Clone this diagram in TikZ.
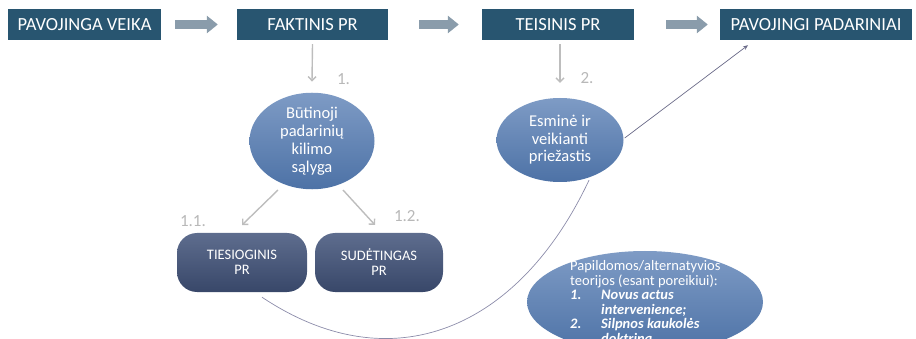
\documentclass[tikz,border=0pt]{standalone}
\usepackage{fontspec}
\setmainfont{Carlito}
\usetikzlibrary{shapes.geometric, arrows.meta}

\definecolor{headblue}{HTML}{285570}
\definecolor{blockgray}{HTML}{8A9CAB}
\definecolor{thingray}{HTML}{BDBDBD}
\definecolor{labelgray}{HTML}{B8B8B8}
\definecolor{ovaltop}{HTML}{7E9BC5}
\definecolor{ovalbottom}{HTML}{4D72A6}
\definecolor{pilltop}{HTML}{5E6D8E}
\definecolor{pillbottom}{HTML}{384769}
\definecolor{linkline}{HTML}{8C8CAA}
\definecolor{linkdark}{HTML}{6A6A88}

\tikzset{
  headbox/.style={fill=headblue, text=white, inner sep=0pt, minimum height=31pt,
    font=\fontsize{18.5}{21}\selectfont},
  blockarrow/.style={draw=blockgray, line width=9pt,
    -{Triangle[length=11pt,width=17pt]}},
  thinarrow/.style={draw=thingray, line width=1.4pt,
    -{Straight Barb[length=4pt,width=8pt]}},
  stepnum/.style={text=labelgray, font=\fontsize{17}{19}\selectfont},
  oval/.style={ellipse, inner sep=0pt, top color=ovaltop, bottom color=ovalbottom,
    text=white, align=center},
  pill/.style={rounded corners=20pt, inner sep=0pt, top color=pilltop,
    bottom color=pillbottom, text=white, align=center,
    font=\fontsize{14.5}{15}\selectfont},
  linkcurve/.style={draw=linkline, line width=0.7pt},
}

\begin{document}
\begin{tikzpicture}[x=1pt, y=-1pt]
\useasboundingbox (0,0) rectangle (916,339);

% top row
\node[headbox, minimum width=153pt] (veika) at (84.5,24.5) {PAVOJINGA VEIKA};
\node[headbox, minimum width=151pt] (fakt)  at (312.5,24.5) {FAKTINIS PR};
\node[headbox, minimum width=152pt] (teis)  at (558,24.5) {TEISINIS PR};
\node[headbox, minimum width=192pt] (pad)   at (816,24.5) {PAVOJINGI PADARINIAI};

\draw[blockarrow] ([xshift=14pt]veika.east) -- ([xshift=-19pt]fakt.west);
\draw[blockarrow] ([xshift=31pt]fakt.east) -- ([xshift=-23pt]teis.west);
\draw[blockarrow] ([xshift=32pt]teis.east) -- ([xshift=-12pt]pad.west);

% conditions
\node[oval, minimum width=125pt, minimum height=88pt,
      font=\fontsize{16.5}{18}\selectfont] (cond) at (312,141)
  {Būtinoji\\padarinių\\kilimo\\sąlyga};
\node[oval, minimum width=127pt, minimum height=84pt,
      font=\fontsize{16.5}{17.5}\selectfont] (cause) at (560,140)
  {Esminė ir\\veikianti\\priežastis};

\draw[thinarrow] ([yshift=-4pt]fakt.south) -- ([yshift=11pt]cond.north);
\draw[thinarrow] ([yshift=-4pt]teis.south -| cause.north) -- ([yshift=15pt]cause.north);
\node[stepnum] (n1) at (343.5,79) {1.};
\node[stepnum] (n2) at (587,78.5) {2.};

% kinds of causal link
\node[pill, minimum width=130pt, minimum height=59pt] (direct) at (242,262.5)
  {TIESIOGINIS\\PR};
\node[pill, minimum width=128pt, minimum height=59pt] (complex) at (379,262.5)
  {SUDĖTINGAS\\PR};

\coordinate (cl) at (278,190);
\coordinate (cr) at (343,190);
\draw[thinarrow] (cl) -- (242,225);
\draw[thinarrow] (cr) -- (375,225);
\node[stepnum] (n11) at (193,221) {1.1.};
\node[stepnum] (n12) at (407,216) {1.2.};

% supplementary theories
\node[ellipse, inner sep=0pt, minimum width=236pt, minimum height=102pt,
      top color=ovaltop, bottom color=ovalbottom] (alt) at (645,302) {};
\node[anchor=north west, inner sep=0pt, text=white, align=left,
      font=\fontsize{14.5}{14.5}\selectfont] (alttext) at (570,260.5)
  {Papildomos/alternatyvios\\
   teorijos (esant poreikiui):\\
   \makebox[31pt][l]{\textbf{\textit{1.}}}\textbf{\textit{Novus actus}}\\
   \hspace*{31pt}\textbf{\textit{intervenience;}}\\
   \makebox[31pt][l]{\textbf{\textit{2.}}}\textbf{\textit{Silpnos kaukolės}}\\
   \hspace*{31pt}\textbf{\textit{doktrina.}}};

% links
\draw[linkcurve] ([xshift=20pt,yshift=-5pt]direct.south) .. controls (392,384) and (519,329) .. ([xshift=29pt,yshift=2pt]cause.south);
\draw[draw=linkdark, line width=0.7pt, -{Stealth[length=5pt,width=4pt]}]
  ([xshift=1pt,yshift=2pt]cause.east) -- ([xshift=-68pt,yshift=-5pt]pad.south);
\end{tikzpicture}
\end{document}
